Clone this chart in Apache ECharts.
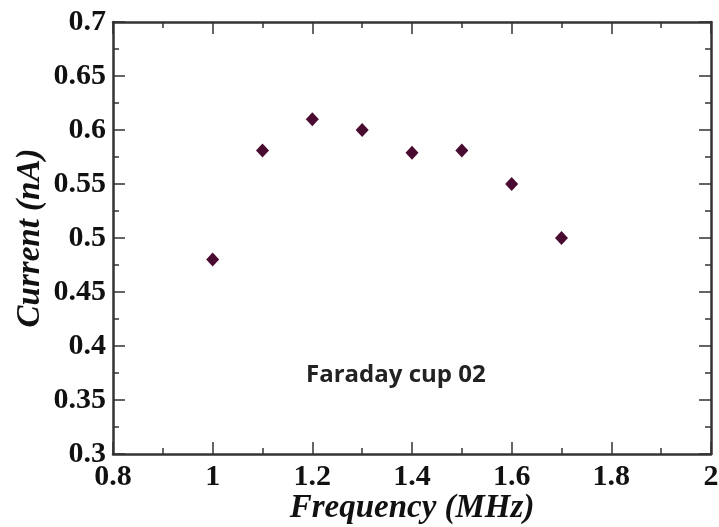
<!DOCTYPE html>
<html>
<head>
<meta charset="utf-8">
<script src="https://cdn.jsdelivr.net/npm/echarts@6/dist/echarts.min.js"></script>
<style>
html,body{margin:0;padding:0;background:#fff;}
#main{width:719px;height:527px;}
</style>
</head>
<body>
<div id="main"></div>
<script>
const frequency = [1.0, 1.1, 1.2, 1.3, 1.4, 1.5, 1.6, 1.7];
const current = [0.48, 0.581, 0.61, 0.6, 0.579, 0.581, 0.55, 0.5];
const xTitle = 'Frequency (MHz)';
const yTitle = 'Current (nA)';
const annotation = 'Faraday cup 02';

const chart = echarts.init(document.getElementById('main'));
const serif = '"Liberation Serif", "Times New Roman", serif';
const axisColor = '#333';
const labelStyle = {fontFamily: serif, fontWeight: 'bold', fontSize: 30, color: '#111'};
const nameStyle = {fontFamily: serif, fontWeight: 'bold', fontStyle: 'italic', fontSize: 33, color: '#111'};

function baseX(extra) {
  return Object.assign({
    type: 'value', min: 0.8, max: 2, interval: 0.2,
    axisLine: {show: true, onZero: false, lineStyle: {color: axisColor, width: 2.5}},
    axisTick: {show: true, inside: true, length: 12, lineStyle: {color: axisColor, width: 1.5}},
    minorTick: {show: true, splitNumber: 2, length: 6, lineStyle: {color: axisColor, width: 1.5}},
    splitLine: {show: false}
  }, extra);
}
function baseY(extra) {
  return Object.assign({
    type: 'value', min: 0.3, max: 0.7, interval: 0.05,
    axisLine: {show: true, onZero: false, lineStyle: {color: axisColor, width: 2.5}},
    axisTick: {show: true, inside: true, length: 12, lineStyle: {color: axisColor, width: 1.5}},
    minorTick: {show: true, splitNumber: 2, length: 6, lineStyle: {color: axisColor, width: 1.5}},
    splitLine: {show: false}
  }, extra);
}

chart.setOption({
  animation: false,
  backgroundColor: '#fff',
  grid: {left: 113, top: 22, right: 8, bottom: 73, containLabel: false, outerBoundsMode: 'none'},
  xAxis: [
    baseX({position: 'bottom',
      axisLabel: Object.assign({margin: 8}, labelStyle),
      name: xTitle, nameLocation: 'middle', nameGap: 38, nameMoveOverlap: false, nameTextStyle: nameStyle}),
    baseX({position: 'top', axisLabel: {show: false}})
  ],
  yAxis: [
    baseY({position: 'left',
      axisLabel: Object.assign({margin: 7}, labelStyle),
      name: yTitle, nameLocation: 'middle', nameGap: 66, nameMoveOverlap: false, nameTextStyle: nameStyle}),
    baseY({position: 'right', axisLabel: {show: false}})
  ],
  graphic: [{
    type: 'text', left: 306, top: 363,
    style: {text: annotation, font: 'bold 24px "Open Sans", sans-serif', fill: '#222'}
  }],
  series: [{
    type: 'scatter',
    xAxisIndex: 0, yAxisIndex: 0,
    symbol: 'diamond', symbolSize: [13, 14],
    itemStyle: {color: '#4a0b30', opacity: 1},
    data: frequency.map((f, i) => [f, current[i]])
  }]
});
</script>
</body>
</html>
